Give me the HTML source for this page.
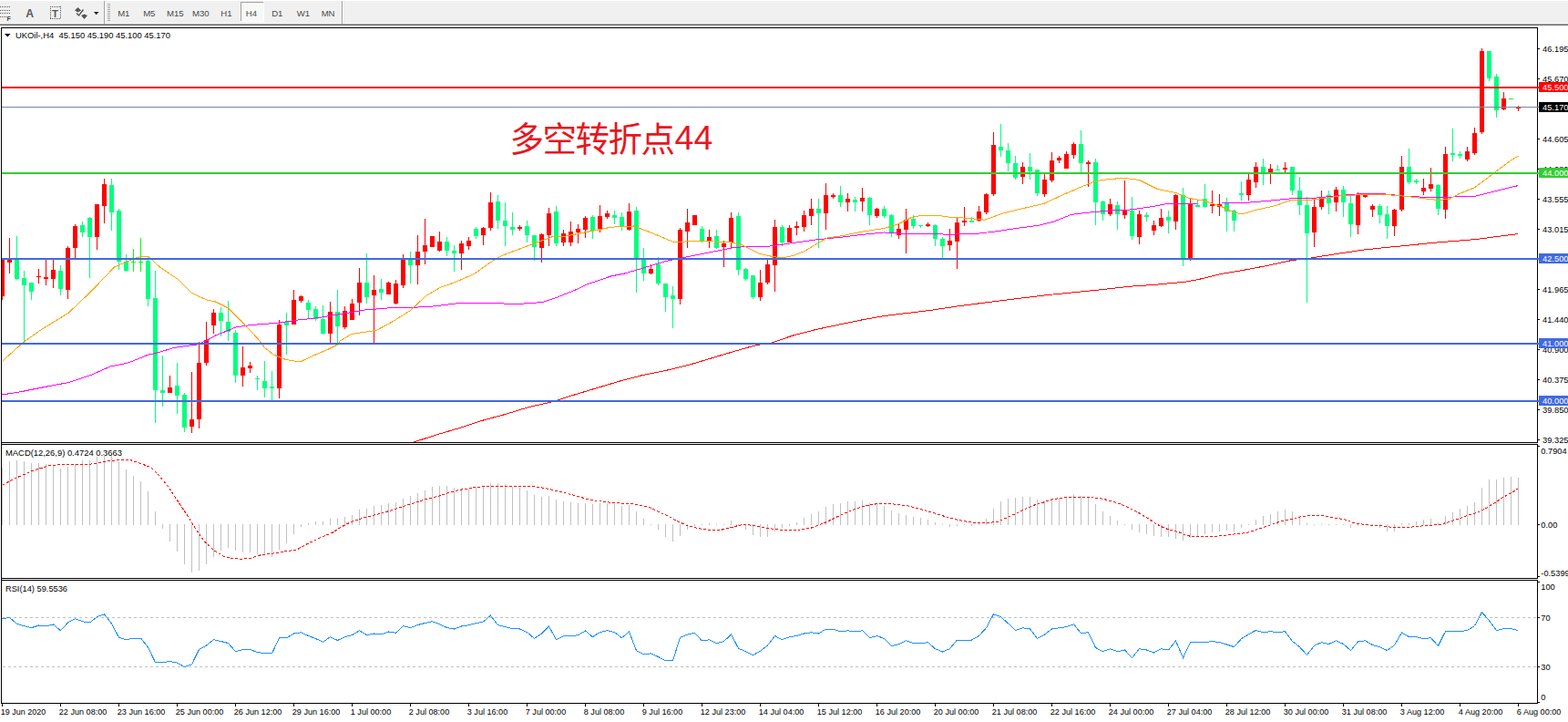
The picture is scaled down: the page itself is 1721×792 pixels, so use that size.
<!DOCTYPE html>
<html><head><meta charset="utf-8"><title>UKOil H4</title>
<style>
html,body{margin:0;padding:0;background:#fff;width:1721px;height:792px;overflow:hidden}
svg{display:block;position:absolute;left:0;top:0}
text{font-family:"Liberation Sans",sans-serif;font-size:9.5px;fill:#000}
.cr{shape-rendering:crispEdges}
.tb{fill:#4a4a4a;font-size:9.6px}
</style></head><body>
<svg width="1721" height="792" viewBox="0 0 1721 792">
<g class="cr"><rect x="0" y="0" width="1721" height="792" fill="#fff"/><rect x="0" y="1" width="1721" height="24" fill="#f0f0f0"/><rect x="0" y="25" width="1721" height="1" fill="#fbfbfb"/><rect x="0" y="26" width="1721" height="1" fill="#a3a3a3"/><rect x="0" y="27" width="1721" height="1" fill="#6b6b6b"/><rect x="114" y="1" width="1" height="25" fill="#a0a0a0"/><rect x="115" y="1" width="1" height="25" fill="#fff"/><rect x="375" y="1" width="1" height="25" fill="#a0a0a0"/><rect x="376" y="1" width="1" height="25" fill="#fff"/><rect x="118" y="4" width="3" height="1" fill="#a8a8a8"/><rect x="118" y="6" width="3" height="1" fill="#a8a8a8"/><rect x="118" y="8" width="3" height="1" fill="#a8a8a8"/><rect x="118" y="10" width="3" height="1" fill="#a8a8a8"/><rect x="118" y="12" width="3" height="1" fill="#a8a8a8"/><rect x="118" y="14" width="3" height="1" fill="#a8a8a8"/><rect x="118" y="16" width="3" height="1" fill="#a8a8a8"/><rect x="118" y="18" width="3" height="1" fill="#a8a8a8"/><rect x="118" y="20" width="3" height="1" fill="#a8a8a8"/><rect x="118" y="22" width="3" height="1" fill="#a8a8a8"/><rect x="264" y="2" width="25" height="22" fill="#f8f8f8"/><rect x="264" y="2" width="25" height="1" fill="#a0a0a0"/><rect x="264" y="2" width="1" height="22" fill="#a0a0a0"/><rect x="264" y="23" width="26" height="1" fill="#fff"/><rect x="289" y="2" width="1" height="22" fill="#fff"/></g>
<g class="cr" fill="#5a5a5a"><rect x="0" y="7" width="1" height="1"/><rect x="2" y="7" width="1" height="1"/><rect x="4" y="7" width="1" height="1"/><rect x="6" y="7" width="1" height="1"/><rect x="8" y="7" width="1" height="1"/><rect x="10" y="7" width="1" height="1"/><rect x="0" y="11" width="1" height="1"/><rect x="2" y="11" width="1" height="1"/><rect x="4" y="11" width="1" height="1"/><rect x="6" y="11" width="1" height="1"/><rect x="8" y="11" width="1" height="1"/><rect x="10" y="11" width="1" height="1"/><rect x="0" y="14" width="1" height="1"/><rect x="2" y="14" width="1" height="1"/><rect x="4" y="14" width="1" height="1"/><rect x="6" y="14" width="1" height="1"/><rect x="8" y="14" width="1" height="1"/><rect x="10" y="14" width="1" height="1"/><rect x="0" y="18" width="1" height="1"/><rect x="2" y="18" width="1" height="1"/><rect x="4" y="18" width="1" height="1"/><rect x="6" y="18" width="1" height="1"/></g><text x="7.5" y="22.6" style="font-size:7px;font-weight:bold;fill:#444">F</text><text x="28.2" y="18.6" style="font-size:12.2px;font-weight:bold;fill:#5a5a5a">A</text><g class="cr" fill="#5a5a5a"><rect x="55" y="7" width="1" height="1"/><rect x="55" y="20" width="1" height="1"/><rect x="57" y="7" width="1" height="1"/><rect x="57" y="20" width="1" height="1"/><rect x="59" y="7" width="1" height="1"/><rect x="59" y="20" width="1" height="1"/><rect x="61" y="7" width="1" height="1"/><rect x="61" y="20" width="1" height="1"/><rect x="63" y="7" width="1" height="1"/><rect x="63" y="20" width="1" height="1"/><rect x="65" y="7" width="1" height="1"/><rect x="65" y="20" width="1" height="1"/><rect x="55" y="7" width="1" height="1"/><rect x="66" y="7" width="1" height="1"/><rect x="55" y="9" width="1" height="1"/><rect x="66" y="9" width="1" height="1"/><rect x="55" y="11" width="1" height="1"/><rect x="66" y="11" width="1" height="1"/><rect x="55" y="13" width="1" height="1"/><rect x="66" y="13" width="1" height="1"/><rect x="55" y="15" width="1" height="1"/><rect x="66" y="15" width="1" height="1"/><rect x="55" y="17" width="1" height="1"/><rect x="66" y="17" width="1" height="1"/><rect x="55" y="19" width="1" height="1"/><rect x="66" y="19" width="1" height="1"/></g><text x="57.1" y="18.7" style="font-size:11.5px;font-weight:bold;fill:#5a5a5a">T</text><g fill="#555"><path d="M82,11.5 L85.5,8 L89,11.5 L85.5,13.5Z"/><path d="M89,17 L92.5,15.5 L96,17 L92.5,21Z"/></g><path d="M84,14.5 L86.5,17 L91.5,10.5" fill="none" stroke="#555" stroke-width="1.4"/><path d="M103,13 L108.4,13 L105.7,16.2Z" fill="#222"/><text class="tb" x="135.8" y="18" text-anchor="middle">M1</text><text class="tb" x="163.8" y="18" text-anchor="middle">M5</text><text class="tb" x="192.3" y="18" text-anchor="middle">M15</text><text class="tb" x="220.3" y="18" text-anchor="middle">M30</text><text class="tb" x="248.4" y="18" text-anchor="middle">H1</text><text class="tb" x="275.9" y="18" text-anchor="middle">H4</text><text class="tb" x="304.3" y="18" text-anchor="middle">D1</text><text class="tb" x="332.9" y="18" text-anchor="middle">W1</text><text class="tb" x="360.1" y="18" text-anchor="middle">MN</text>
<g class="cr" fill="#000"><rect x="1" y="30" width="1" height="742"/><rect x="1687" y="30" width="1" height="456"/><rect x="1687" y="487" width="1" height="148"/><rect x="1687" y="636" width="1" height="136"/><rect x="1" y="30" width="1687" height="1"/><rect x="1" y="485" width="1687" height="1"/><rect x="1" y="487" width="1687" height="1"/><rect x="1" y="634" width="1687" height="1"/><rect x="1" y="636" width="1687" height="1"/><rect x="1" y="771" width="1687" height="1"/></g>
<g class="cr"><rect x="2" y="285" width="1" height="44" fill="#ff0000"/><rect x="2" y="285" width="3" height="40" fill="#ff0000"/><rect x="10" y="261" width="1" height="39" fill="#ff0000"/><rect x="8" y="284" width="5" height="4" fill="#ff0000"/><rect x="18" y="259" width="1" height="48" fill="#00ff7f"/><rect x="16" y="285" width="5" height="21" fill="#00ff7f"/><rect x="26" y="297" width="1" height="79" fill="#00ff7f"/><rect x="24" y="305" width="5" height="8" fill="#00ff7f"/><rect x="34" y="310" width="1" height="19" fill="#00ff7f"/><rect x="32" y="310" width="5" height="10" fill="#00ff7f"/><rect x="42" y="295" width="1" height="16" fill="#ff0000"/><rect x="40" y="303" width="5" height="1" fill="#ff0000"/><rect x="50" y="285" width="1" height="28" fill="#ff0000"/><rect x="48" y="304" width="5" height="2" fill="#ff0000"/><rect x="58" y="285" width="1" height="31" fill="#ff0000"/><rect x="56" y="296" width="5" height="10" fill="#ff0000"/><rect x="66" y="291" width="1" height="33" fill="#00ff7f"/><rect x="64" y="297" width="5" height="20" fill="#00ff7f"/><rect x="74" y="270" width="1" height="58" fill="#ff0000"/><rect x="72" y="272" width="5" height="46" fill="#ff0000"/><rect x="82" y="246" width="1" height="37" fill="#ff0000"/><rect x="80" y="248" width="5" height="24" fill="#ff0000"/><rect x="90" y="243" width="1" height="17" fill="#00ff7f"/><rect x="88" y="247" width="5" height="8" fill="#00ff7f"/><rect x="98" y="238" width="1" height="67" fill="#00ff7f"/><rect x="96" y="239" width="5" height="21" fill="#00ff7f"/><rect x="106" y="224" width="1" height="50" fill="#ff0000"/><rect x="104" y="224" width="5" height="36" fill="#ff0000"/><rect x="114" y="196" width="1" height="49" fill="#ff0000"/><rect x="112" y="202" width="5" height="24" fill="#ff0000"/><rect x="122" y="196" width="1" height="57" fill="#00ff7f"/><rect x="120" y="203" width="5" height="30" fill="#00ff7f"/><rect x="130" y="229" width="1" height="67" fill="#00ff7f"/><rect x="128" y="231" width="5" height="56" fill="#00ff7f"/><rect x="138" y="279" width="1" height="19" fill="#00ff7f"/><rect x="136" y="287" width="5" height="10" fill="#00ff7f"/><rect x="146" y="273" width="1" height="25" fill="#00ff00"/><rect x="144" y="287" width="5" height="1" fill="#00ff00"/><rect x="154" y="261" width="1" height="37" fill="#00ff00"/><rect x="152" y="287" width="5" height="1" fill="#00ff00"/><rect x="162" y="282" width="1" height="54" fill="#00ff7f"/><rect x="160" y="286" width="5" height="42" fill="#00ff7f"/><rect x="170" y="297" width="1" height="167" fill="#00ff7f"/><rect x="168" y="327" width="5" height="101" fill="#00ff7f"/><rect x="178" y="390" width="1" height="56" fill="#00ff7f"/><rect x="176" y="428" width="5" height="3" fill="#00ff7f"/><rect x="186" y="412" width="1" height="19" fill="#ff0000"/><rect x="184" y="425" width="5" height="6" fill="#ff0000"/><rect x="194" y="398" width="1" height="56" fill="#00ff7f"/><rect x="192" y="423" width="5" height="11" fill="#00ff7f"/><rect x="202" y="431" width="1" height="43" fill="#00ff7f"/><rect x="200" y="433" width="5" height="36" fill="#00ff7f"/><rect x="210" y="408" width="1" height="67" fill="#ff0000"/><rect x="208" y="460" width="5" height="8" fill="#ff0000"/><rect x="218" y="375" width="1" height="95" fill="#ff0000"/><rect x="216" y="398" width="5" height="62" fill="#ff0000"/><rect x="226" y="353" width="1" height="48" fill="#ff0000"/><rect x="224" y="373" width="5" height="25" fill="#ff0000"/><rect x="234" y="339" width="1" height="27" fill="#ff0000"/><rect x="232" y="343" width="5" height="14" fill="#ff0000"/><rect x="242" y="337" width="1" height="32" fill="#00ff7f"/><rect x="240" y="343" width="5" height="9" fill="#00ff7f"/><rect x="250" y="330" width="1" height="44" fill="#00ff7f"/><rect x="248" y="353" width="5" height="11" fill="#00ff7f"/><rect x="258" y="362" width="1" height="58" fill="#00ff7f"/><rect x="256" y="365" width="5" height="47" fill="#00ff7f"/><rect x="266" y="380" width="1" height="44" fill="#ff0000"/><rect x="264" y="403" width="5" height="9" fill="#ff0000"/><rect x="274" y="397" width="1" height="12" fill="#ff0000"/><rect x="272" y="401" width="5" height="3" fill="#ff0000"/><rect x="282" y="412" width="1" height="16" fill="#00ff7f"/><rect x="280" y="415" width="5" height="1" fill="#00ff7f"/><rect x="290" y="396" width="1" height="40" fill="#00ff7f"/><rect x="288" y="418" width="5" height="8" fill="#00ff7f"/><rect x="298" y="407" width="1" height="32" fill="#00ff7f"/><rect x="296" y="424" width="5" height="2" fill="#00ff7f"/><rect x="306" y="351" width="1" height="86" fill="#ff0000"/><rect x="304" y="356" width="5" height="70" fill="#ff0000"/><rect x="314" y="343" width="1" height="46" fill="#00ff7f"/><rect x="312" y="353" width="5" height="4" fill="#00ff7f"/><rect x="322" y="318" width="1" height="38" fill="#ff0000"/><rect x="320" y="329" width="5" height="27" fill="#ff0000"/><rect x="330" y="324" width="1" height="8" fill="#ff0000"/><rect x="328" y="325" width="5" height="5" fill="#ff0000"/><rect x="338" y="329" width="1" height="20" fill="#00ff7f"/><rect x="336" y="332" width="5" height="8" fill="#00ff7f"/><rect x="346" y="336" width="1" height="16" fill="#00ff7f"/><rect x="344" y="339" width="5" height="11" fill="#00ff7f"/><rect x="354" y="335" width="1" height="32" fill="#00ff7f"/><rect x="352" y="350" width="5" height="16" fill="#00ff7f"/><rect x="362" y="331" width="1" height="45" fill="#ff0000"/><rect x="360" y="342" width="5" height="24" fill="#ff0000"/><rect x="370" y="318" width="1" height="61" fill="#00ff7f"/><rect x="368" y="342" width="5" height="16" fill="#00ff7f"/><rect x="378" y="336" width="1" height="25" fill="#ff0000"/><rect x="376" y="341" width="5" height="18" fill="#ff0000"/><rect x="386" y="328" width="1" height="23" fill="#ff0000"/><rect x="384" y="333" width="5" height="18" fill="#ff0000"/><rect x="394" y="294" width="1" height="52" fill="#ff0000"/><rect x="392" y="310" width="5" height="22" fill="#ff0000"/><rect x="402" y="278" width="1" height="55" fill="#00ff7f"/><rect x="400" y="310" width="5" height="16" fill="#00ff7f"/><rect x="410" y="302" width="1" height="74" fill="#ff0000"/><rect x="408" y="318" width="5" height="6" fill="#ff0000"/><rect x="418" y="306" width="1" height="23" fill="#00ff7f"/><rect x="416" y="317" width="5" height="4" fill="#00ff7f"/><rect x="426" y="309" width="1" height="14" fill="#ff0000"/><rect x="424" y="310" width="5" height="13" fill="#ff0000"/><rect x="434" y="307" width="1" height="27" fill="#ff0000"/><rect x="432" y="311" width="5" height="22" fill="#ff0000"/><rect x="442" y="279" width="1" height="37" fill="#ff0000"/><rect x="440" y="284" width="5" height="29" fill="#ff0000"/><rect x="450" y="276" width="1" height="35" fill="#00ff7f"/><rect x="448" y="284" width="5" height="7" fill="#00ff7f"/><rect x="458" y="258" width="1" height="54" fill="#ff0000"/><rect x="456" y="276" width="5" height="15" fill="#ff0000"/><rect x="466" y="240" width="1" height="50" fill="#ff0000"/><rect x="464" y="269" width="5" height="7" fill="#ff0000"/><rect x="474" y="259" width="1" height="12" fill="#ff0000"/><rect x="472" y="259" width="5" height="12" fill="#ff0000"/><rect x="482" y="254" width="1" height="22" fill="#ff0000"/><rect x="480" y="265" width="5" height="10" fill="#ff0000"/><rect x="490" y="260" width="1" height="21" fill="#00ff7f"/><rect x="488" y="265" width="5" height="10" fill="#00ff7f"/><rect x="498" y="269" width="1" height="29" fill="#00ff7f"/><rect x="496" y="275" width="5" height="3" fill="#00ff7f"/><rect x="506" y="264" width="1" height="32" fill="#ff0000"/><rect x="504" y="267" width="5" height="11" fill="#ff0000"/><rect x="514" y="260" width="1" height="14" fill="#ff0000"/><rect x="512" y="264" width="5" height="6" fill="#ff0000"/><rect x="522" y="249" width="1" height="13" fill="#00ff7f"/><rect x="520" y="251" width="5" height="8" fill="#00ff7f"/><rect x="530" y="249" width="1" height="20" fill="#ff0000"/><rect x="528" y="250" width="5" height="8" fill="#ff0000"/><rect x="538" y="211" width="1" height="42" fill="#ff0000"/><rect x="536" y="222" width="5" height="28" fill="#ff0000"/><rect x="546" y="214" width="1" height="37" fill="#00ff7f"/><rect x="544" y="221" width="5" height="21" fill="#00ff7f"/><rect x="554" y="222" width="1" height="48" fill="#00ff7f"/><rect x="552" y="242" width="5" height="6" fill="#00ff7f"/><rect x="562" y="233" width="1" height="25" fill="#00ff7f"/><rect x="560" y="249" width="5" height="3" fill="#00ff7f"/><rect x="570" y="247" width="1" height="6" fill="#ff0000"/><rect x="568" y="249" width="5" height="2" fill="#ff0000"/><rect x="578" y="242" width="1" height="24" fill="#00ff7f"/><rect x="576" y="248" width="5" height="10" fill="#00ff7f"/><rect x="586" y="258" width="1" height="28" fill="#00ff7f"/><rect x="584" y="258" width="5" height="13" fill="#00ff7f"/><rect x="594" y="256" width="1" height="32" fill="#ff0000"/><rect x="592" y="257" width="5" height="15" fill="#ff0000"/><rect x="602" y="228" width="1" height="42" fill="#ff0000"/><rect x="600" y="234" width="5" height="24" fill="#ff0000"/><rect x="610" y="226" width="1" height="44" fill="#00ff7f"/><rect x="608" y="232" width="5" height="35" fill="#00ff7f"/><rect x="618" y="252" width="1" height="18" fill="#ff0000"/><rect x="616" y="256" width="5" height="10" fill="#ff0000"/><rect x="626" y="243" width="1" height="27" fill="#ff0000"/><rect x="624" y="254" width="5" height="12" fill="#ff0000"/><rect x="634" y="246" width="1" height="21" fill="#ff0000"/><rect x="632" y="251" width="5" height="4" fill="#ff0000"/><rect x="642" y="237" width="1" height="24" fill="#ff0000"/><rect x="640" y="239" width="5" height="13" fill="#ff0000"/><rect x="650" y="236" width="1" height="26" fill="#00ff7f"/><rect x="648" y="238" width="5" height="15" fill="#00ff7f"/><rect x="658" y="225" width="1" height="30" fill="#ff0000"/><rect x="656" y="237" width="5" height="15" fill="#ff0000"/><rect x="666" y="231" width="1" height="9" fill="#ff0000"/><rect x="664" y="234" width="5" height="4" fill="#ff0000"/><rect x="674" y="231" width="1" height="15" fill="#00ff7f"/><rect x="672" y="236" width="5" height="3" fill="#00ff7f"/><rect x="682" y="233" width="1" height="20" fill="#00ff7f"/><rect x="680" y="238" width="5" height="10" fill="#00ff7f"/><rect x="690" y="223" width="1" height="30" fill="#ff0000"/><rect x="688" y="232" width="5" height="20" fill="#ff0000"/><rect x="698" y="227" width="1" height="94" fill="#00ff7f"/><rect x="696" y="231" width="5" height="53" fill="#00ff7f"/><rect x="706" y="272" width="1" height="36" fill="#00ff7f"/><rect x="704" y="284" width="5" height="16" fill="#00ff7f"/><rect x="714" y="290" width="1" height="11" fill="#ff0000"/><rect x="712" y="295" width="5" height="5" fill="#ff0000"/><rect x="722" y="282" width="1" height="31" fill="#00ff7f"/><rect x="720" y="290" width="5" height="21" fill="#00ff7f"/><rect x="730" y="311" width="1" height="31" fill="#00ff7f"/><rect x="728" y="311" width="5" height="15" fill="#00ff7f"/><rect x="738" y="314" width="1" height="46" fill="#00ff7f"/><rect x="736" y="324" width="5" height="4" fill="#00ff7f"/><rect x="746" y="250" width="1" height="84" fill="#ff0000"/><rect x="744" y="252" width="5" height="76" fill="#ff0000"/><rect x="754" y="229" width="1" height="43" fill="#ff0000"/><rect x="752" y="244" width="5" height="10" fill="#ff0000"/><rect x="762" y="236" width="1" height="11" fill="#ff0000"/><rect x="760" y="236" width="5" height="11" fill="#ff0000"/><rect x="770" y="248" width="1" height="18" fill="#00ff7f"/><rect x="768" y="251" width="5" height="13" fill="#00ff7f"/><rect x="778" y="252" width="1" height="20" fill="#ff0000"/><rect x="776" y="260" width="5" height="4" fill="#ff0000"/><rect x="786" y="252" width="1" height="21" fill="#00ff7f"/><rect x="784" y="259" width="5" height="13" fill="#00ff7f"/><rect x="794" y="264" width="1" height="29" fill="#ff0000"/><rect x="792" y="267" width="5" height="4" fill="#ff0000"/><rect x="802" y="233" width="1" height="39" fill="#ff0000"/><rect x="800" y="239" width="5" height="27" fill="#ff0000"/><rect x="810" y="233" width="1" height="69" fill="#00ff7f"/><rect x="808" y="237" width="5" height="59" fill="#00ff7f"/><rect x="818" y="294" width="1" height="14" fill="#00ff7f"/><rect x="816" y="295" width="5" height="11" fill="#00ff7f"/><rect x="826" y="302" width="1" height="26" fill="#00ff7f"/><rect x="824" y="302" width="5" height="24" fill="#00ff7f"/><rect x="834" y="296" width="1" height="34" fill="#ff0000"/><rect x="832" y="310" width="5" height="16" fill="#ff0000"/><rect x="842" y="285" width="1" height="27" fill="#ff0000"/><rect x="840" y="290" width="5" height="20" fill="#ff0000"/><rect x="850" y="241" width="1" height="79" fill="#ff0000"/><rect x="848" y="249" width="5" height="42" fill="#ff0000"/><rect x="858" y="247" width="1" height="23" fill="#00ff7f"/><rect x="856" y="249" width="5" height="17" fill="#00ff7f"/><rect x="866" y="247" width="1" height="19" fill="#ff0000"/><rect x="864" y="250" width="5" height="16" fill="#ff0000"/><rect x="874" y="243" width="1" height="15" fill="#ff0000"/><rect x="872" y="248" width="5" height="2" fill="#ff0000"/><rect x="882" y="231" width="1" height="23" fill="#ff0000"/><rect x="880" y="236" width="5" height="13" fill="#ff0000"/><rect x="890" y="218" width="1" height="29" fill="#ff0000"/><rect x="888" y="229" width="5" height="8" fill="#ff0000"/><rect x="898" y="218" width="1" height="54" fill="#00ff7f"/><rect x="896" y="229" width="5" height="5" fill="#00ff7f"/><rect x="906" y="201" width="1" height="51" fill="#ff0000"/><rect x="904" y="214" width="5" height="20" fill="#ff0000"/><rect x="914" y="212" width="1" height="6" fill="#ff0000"/><rect x="912" y="214" width="5" height="2" fill="#ff0000"/><rect x="922" y="204" width="1" height="23" fill="#00ff7f"/><rect x="920" y="214" width="5" height="8" fill="#00ff7f"/><rect x="930" y="212" width="1" height="20" fill="#ff0000"/><rect x="928" y="218" width="5" height="4" fill="#ff0000"/><rect x="938" y="216" width="1" height="16" fill="#00ff7f"/><rect x="936" y="219" width="5" height="3" fill="#00ff7f"/><rect x="946" y="206" width="1" height="26" fill="#ff0000"/><rect x="944" y="217" width="5" height="4" fill="#ff0000"/><rect x="954" y="216" width="1" height="31" fill="#00ff7f"/><rect x="952" y="217" width="5" height="19" fill="#00ff7f"/><rect x="962" y="228" width="1" height="11" fill="#ff0000"/><rect x="960" y="229" width="5" height="8" fill="#ff0000"/><rect x="970" y="226" width="1" height="13" fill="#00ff7f"/><rect x="968" y="229" width="5" height="8" fill="#00ff7f"/><rect x="978" y="235" width="1" height="25" fill="#00ff7f"/><rect x="976" y="236" width="5" height="20" fill="#00ff7f"/><rect x="986" y="245" width="1" height="17" fill="#ff0000"/><rect x="984" y="251" width="5" height="7" fill="#ff0000"/><rect x="994" y="229" width="1" height="49" fill="#ff0000"/><rect x="992" y="241" width="5" height="11" fill="#ff0000"/><rect x="1002" y="236" width="1" height="15" fill="#00ff7f"/><rect x="1000" y="240" width="5" height="8" fill="#00ff7f"/><rect x="1010" y="247" width="1" height="3" fill="#00ff7f"/><rect x="1008" y="247" width="5" height="1" fill="#00ff7f"/><rect x="1018" y="244" width="1" height="5" fill="#ff0000"/><rect x="1016" y="246" width="5" height="2" fill="#ff0000"/><rect x="1026" y="246" width="1" height="24" fill="#00ff7f"/><rect x="1024" y="247" width="5" height="15" fill="#00ff7f"/><rect x="1034" y="260" width="1" height="23" fill="#00ff7f"/><rect x="1032" y="262" width="5" height="8" fill="#00ff7f"/><rect x="1042" y="251" width="1" height="24" fill="#ff0000"/><rect x="1040" y="264" width="5" height="5" fill="#ff0000"/><rect x="1050" y="239" width="1" height="56" fill="#ff0000"/><rect x="1048" y="244" width="5" height="21" fill="#ff0000"/><rect x="1058" y="227" width="1" height="21" fill="#ff0000"/><rect x="1056" y="242" width="5" height="2" fill="#ff0000"/><rect x="1066" y="238" width="1" height="6" fill="#00ff7f"/><rect x="1064" y="242" width="5" height="2" fill="#00ff7f"/><rect x="1074" y="226" width="1" height="17" fill="#ff0000"/><rect x="1072" y="232" width="5" height="10" fill="#ff0000"/><rect x="1082" y="212" width="1" height="23" fill="#ff0000"/><rect x="1080" y="213" width="5" height="20" fill="#ff0000"/><rect x="1090" y="145" width="1" height="70" fill="#ff0000"/><rect x="1088" y="159" width="5" height="54" fill="#ff0000"/><rect x="1098" y="136" width="1" height="36" fill="#00ff7f"/><rect x="1096" y="161" width="5" height="4" fill="#00ff7f"/><rect x="1106" y="157" width="1" height="31" fill="#00ff7f"/><rect x="1104" y="165" width="5" height="14" fill="#00ff7f"/><rect x="1114" y="171" width="1" height="26" fill="#00ff7f"/><rect x="1112" y="179" width="5" height="16" fill="#00ff7f"/><rect x="1122" y="178" width="1" height="24" fill="#ff0000"/><rect x="1120" y="183" width="5" height="11" fill="#ff0000"/><rect x="1130" y="168" width="1" height="29" fill="#00ff7f"/><rect x="1128" y="183" width="5" height="5" fill="#00ff7f"/><rect x="1138" y="186" width="1" height="29" fill="#00ff7f"/><rect x="1136" y="186" width="5" height="26" fill="#00ff7f"/><rect x="1146" y="191" width="1" height="25" fill="#ff0000"/><rect x="1144" y="197" width="5" height="16" fill="#ff0000"/><rect x="1154" y="167" width="1" height="33" fill="#ff0000"/><rect x="1152" y="176" width="5" height="22" fill="#ff0000"/><rect x="1162" y="171" width="1" height="8" fill="#ff0000"/><rect x="1160" y="173" width="5" height="3" fill="#ff0000"/><rect x="1170" y="166" width="1" height="19" fill="#ff0000"/><rect x="1168" y="169" width="5" height="16" fill="#ff0000"/><rect x="1178" y="156" width="1" height="18" fill="#ff0000"/><rect x="1176" y="158" width="5" height="12" fill="#ff0000"/><rect x="1186" y="143" width="1" height="46" fill="#00ff7f"/><rect x="1184" y="158" width="5" height="21" fill="#00ff7f"/><rect x="1194" y="176" width="1" height="29" fill="#ff0000"/><rect x="1192" y="178" width="5" height="2" fill="#ff0000"/><rect x="1202" y="174" width="1" height="73" fill="#00ff7f"/><rect x="1200" y="178" width="5" height="44" fill="#00ff7f"/><rect x="1210" y="220" width="1" height="22" fill="#00ff7f"/><rect x="1208" y="221" width="5" height="14" fill="#00ff7f"/><rect x="1218" y="218" width="1" height="19" fill="#ff0000"/><rect x="1216" y="224" width="5" height="11" fill="#ff0000"/><rect x="1226" y="221" width="1" height="31" fill="#00ff7f"/><rect x="1224" y="225" width="5" height="10" fill="#00ff7f"/><rect x="1234" y="198" width="1" height="42" fill="#ff0000"/><rect x="1232" y="231" width="5" height="5" fill="#ff0000"/><rect x="1242" y="216" width="1" height="47" fill="#00ff7f"/><rect x="1240" y="231" width="5" height="28" fill="#00ff7f"/><rect x="1250" y="231" width="1" height="37" fill="#ff0000"/><rect x="1248" y="235" width="5" height="25" fill="#ff0000"/><rect x="1258" y="233" width="1" height="10" fill="#00ff7f"/><rect x="1256" y="236" width="5" height="2" fill="#00ff7f"/><rect x="1266" y="242" width="1" height="16" fill="#ff0000"/><rect x="1264" y="247" width="5" height="6" fill="#ff0000"/><rect x="1274" y="229" width="1" height="20" fill="#ff0000"/><rect x="1272" y="239" width="5" height="9" fill="#ff0000"/><rect x="1282" y="231" width="1" height="25" fill="#00ff7f"/><rect x="1280" y="238" width="5" height="4" fill="#00ff7f"/><rect x="1290" y="213" width="1" height="39" fill="#ff0000"/><rect x="1288" y="214" width="5" height="29" fill="#ff0000"/><rect x="1298" y="206" width="1" height="86" fill="#00ff7f"/><rect x="1296" y="214" width="5" height="70" fill="#00ff7f"/><rect x="1306" y="218" width="1" height="68" fill="#ff0000"/><rect x="1304" y="224" width="5" height="60" fill="#ff0000"/><rect x="1314" y="220" width="1" height="7" fill="#00ff7f"/><rect x="1312" y="225" width="5" height="2" fill="#00ff7f"/><rect x="1322" y="202" width="1" height="26" fill="#00ff7f"/><rect x="1320" y="218" width="5" height="9" fill="#00ff7f"/><rect x="1330" y="209" width="1" height="25" fill="#ff0000"/><rect x="1328" y="224" width="5" height="2" fill="#ff0000"/><rect x="1338" y="213" width="1" height="24" fill="#ff0000"/><rect x="1336" y="224" width="5" height="3" fill="#ff0000"/><rect x="1346" y="217" width="1" height="37" fill="#00ff7f"/><rect x="1344" y="222" width="5" height="10" fill="#00ff7f"/><rect x="1354" y="230" width="1" height="24" fill="#00ff7f"/><rect x="1352" y="231" width="5" height="11" fill="#00ff7f"/><rect x="1362" y="199" width="1" height="21" fill="#00ff7f"/><rect x="1360" y="212" width="5" height="2" fill="#00ff7f"/><rect x="1370" y="191" width="1" height="29" fill="#ff0000"/><rect x="1368" y="197" width="5" height="17" fill="#ff0000"/><rect x="1378" y="178" width="1" height="28" fill="#ff0000"/><rect x="1376" y="183" width="5" height="17" fill="#ff0000"/><rect x="1386" y="174" width="1" height="29" fill="#00ff7f"/><rect x="1384" y="183" width="5" height="7" fill="#00ff7f"/><rect x="1394" y="180" width="1" height="22" fill="#ff0000"/><rect x="1392" y="185" width="5" height="4" fill="#ff0000"/><rect x="1402" y="181" width="1" height="6" fill="#00ff7f"/><rect x="1400" y="186" width="5" height="1" fill="#00ff7f"/><rect x="1410" y="178" width="1" height="11" fill="#ff0000"/><rect x="1408" y="184" width="5" height="2" fill="#ff0000"/><rect x="1418" y="183" width="1" height="31" fill="#00ff7f"/><rect x="1416" y="183" width="5" height="26" fill="#00ff7f"/><rect x="1426" y="194" width="1" height="42" fill="#00ff7f"/><rect x="1424" y="209" width="5" height="16" fill="#00ff7f"/><rect x="1434" y="216" width="1" height="116" fill="#00ff7f"/><rect x="1432" y="225" width="5" height="31" fill="#00ff7f"/><rect x="1442" y="219" width="1" height="52" fill="#ff0000"/><rect x="1440" y="227" width="5" height="28" fill="#ff0000"/><rect x="1450" y="209" width="1" height="21" fill="#ff0000"/><rect x="1448" y="217" width="5" height="10" fill="#ff0000"/><rect x="1458" y="209" width="1" height="26" fill="#00ff7f"/><rect x="1456" y="214" width="5" height="9" fill="#00ff7f"/><rect x="1466" y="205" width="1" height="27" fill="#ff0000"/><rect x="1464" y="208" width="5" height="14" fill="#ff0000"/><rect x="1474" y="204" width="1" height="34" fill="#00ff7f"/><rect x="1472" y="208" width="5" height="14" fill="#00ff7f"/><rect x="1482" y="215" width="1" height="45" fill="#00ff7f"/><rect x="1480" y="223" width="5" height="23" fill="#00ff7f"/><rect x="1490" y="211" width="1" height="46" fill="#ff0000"/><rect x="1488" y="214" width="5" height="33" fill="#ff0000"/><rect x="1498" y="212" width="1" height="5" fill="#ff0000"/><rect x="1496" y="212" width="5" height="4" fill="#ff0000"/><rect x="1506" y="224" width="1" height="14" fill="#ff0000"/><rect x="1504" y="226" width="5" height="4" fill="#ff0000"/><rect x="1514" y="224" width="1" height="21" fill="#00ff7f"/><rect x="1512" y="226" width="5" height="10" fill="#00ff7f"/><rect x="1522" y="226" width="1" height="36" fill="#00ff7f"/><rect x="1520" y="235" width="5" height="13" fill="#00ff7f"/><rect x="1530" y="229" width="1" height="30" fill="#ff0000"/><rect x="1528" y="230" width="5" height="18" fill="#ff0000"/><rect x="1538" y="171" width="1" height="61" fill="#ff0000"/><rect x="1536" y="183" width="5" height="47" fill="#ff0000"/><rect x="1546" y="163" width="1" height="39" fill="#00ff7f"/><rect x="1544" y="183" width="5" height="17" fill="#00ff7f"/><rect x="1554" y="196" width="1" height="6" fill="#00ff7f"/><rect x="1552" y="198" width="5" height="2" fill="#00ff7f"/><rect x="1562" y="196" width="1" height="18" fill="#ff0000"/><rect x="1560" y="206" width="5" height="4" fill="#ff0000"/><rect x="1570" y="184" width="1" height="26" fill="#ff0000"/><rect x="1568" y="202" width="5" height="5" fill="#ff0000"/><rect x="1578" y="202" width="1" height="34" fill="#00ff7f"/><rect x="1576" y="203" width="5" height="26" fill="#00ff7f"/><rect x="1586" y="161" width="1" height="79" fill="#ff0000"/><rect x="1584" y="169" width="5" height="61" fill="#ff0000"/><rect x="1594" y="141" width="1" height="36" fill="#00ff7f"/><rect x="1592" y="168" width="5" height="2" fill="#00ff7f"/><rect x="1602" y="166" width="1" height="8" fill="#00ff7f"/><rect x="1600" y="169" width="5" height="2" fill="#00ff7f"/><rect x="1610" y="161" width="1" height="16" fill="#ff0000"/><rect x="1608" y="166" width="5" height="9" fill="#ff0000"/><rect x="1618" y="140" width="1" height="30" fill="#ff0000"/><rect x="1616" y="146" width="5" height="22" fill="#ff0000"/><rect x="1626" y="53" width="1" height="94" fill="#ff0000"/><rect x="1624" y="56" width="5" height="89" fill="#ff0000"/><rect x="1634" y="56" width="1" height="33" fill="#00ff7f"/><rect x="1632" y="56" width="5" height="30" fill="#00ff7f"/><rect x="1642" y="81" width="1" height="48" fill="#00ff7f"/><rect x="1640" y="84" width="5" height="37" fill="#00ff7f"/><rect x="1650" y="101" width="1" height="20" fill="#ff0000"/><rect x="1648" y="108" width="5" height="12" fill="#ff0000"/><rect x="1658" y="108" width="1" height="1" fill="#00ff00"/><rect x="1656" y="108" width="5" height="1" fill="#00ff00"/><rect x="1666" y="116" width="1" height="6" fill="#ff0000"/><rect x="1664" y="118" width="5" height="1" fill="#ff0000"/></g>
<polyline fill="none" stroke="#ff0000" stroke-width="1" shape-rendering="crispEdges" points="454.2,485 480.5,476.5 505.5,469.2 530.5,461 555.5,454.2 580.5,446.5 605.5,441 630.5,433 655.5,425.5 680.5,418 705.5,411.5 730.5,406.5 755.5,400.5 780.5,393 805.5,385.5 830.5,378.5 845.5,376.5 870.5,368 895.5,361.5 920.5,356.2 945.5,351 970.5,346.5 995.5,343.5 1020.5,340.5 1050.5,336 1100.5,329.5 1150.5,323.5 1206.5,318 1240.5,314.2 1265.5,312.5 1300.5,309.2 1315.5,306.5 1340.5,300.5 1365.5,296.2 1390.5,291.5 1415.5,286 1435.5,283.5 1470.5,278 1495.5,274.2 1520.5,271.5 1545.5,269.2 1570.5,266.5 1595.5,264.5 1620.5,262.5 1645.5,259.2 1666.5,256.5"/>
<polyline fill="none" stroke="#ff00ff" stroke-width="1" shape-rendering="crispEdges" points="2.5,433 25.5,429.2 50.5,424.2 75.5,419.5 100.5,411.2 120.5,402.2 140.5,398 150.5,394.2 162.5,389.2 175.5,386.2 190.5,381.5 215.5,378 225.5,374.2 237.5,367.5 250.5,362.5 257.5,359.2 275.5,356.5 305.5,354.2 325.5,351.2 350.5,348.5 375.5,344.2 400.5,340 425.5,338 450.5,337.5 475.5,336 500.5,333 525.5,332.5 550.5,332.5 555.5,333.5 575.5,333 595.5,331.5 610.5,326.5 630.5,318.5 645.5,311.5 670.5,303 685.5,300 705.5,294.2 730.5,286.5 755.5,281.5 780.5,276.5 805.5,271.5 820.5,270.5 845.5,270 870.5,266.5 895.5,263 925.5,260 945.5,257.5 970.5,255 995.5,256.5 1020.5,256.5 1040.5,257.2 1070.5,256.5 1090.5,254.2 1115.5,250.5 1140.5,247.2 1155.5,243.5 1175.5,235.5 1190.5,233.5 1215.5,231.2 1240.5,230 1265.5,226.5 1280.5,223.5 1315.5,223 1340.5,223 1365.5,222.5 1390.5,220.5 1415.5,218 1440.5,217.5 1470.5,214.5 1495.5,212.5 1520.5,213 1545.5,215.5 1570.5,216.5 1595.5,216 1620.5,215 1635.5,211.2 1666.5,203.5"/>
<polyline fill="none" stroke="#ffa500" stroke-width="1" shape-rendering="crispEdges" points="2.5,396.2 25.5,375.5 45.5,361.5 75.5,343 100.5,319.2 125.5,293 140.5,286.5 146.5,284 150.5,282.5 153.5,281.8 155,281.5 163,281.5 164.5,282.5 166.5,284.8 175.5,293 195.5,306.5 210.5,321.5 228,329.5 235.5,330.5 250.5,338 265.5,353 283,371.5 290.5,381.5 300.5,389.2 313,394.2 325.5,396.5 330.5,396.5 343,390.5 360.5,383 370.5,378 373,374.2 385.5,366.5 400.5,364.2 413,362.5 430.5,353 450.5,340.5 468,324.2 483,315.5 500.5,309.2 520.5,300.5 538,288 550.5,280.5 570.5,273 590.5,265.5 605.5,260 620.5,259.2 645.5,254.2 670.5,249.2 695.5,248 715.5,255.5 740.5,266 760.5,264.2 783,265 800.5,265.5 815.5,269.2 833,278 845.5,281 858,283 870.5,280.5 883,275.5 895.5,268 908,261 925.5,258.5 945.5,254.2 970.5,250.5 985.5,246 1000.5,238.5 1010.5,236.5 1030.5,236.5 1040.5,238 1060.5,239.2 1080.5,241.2 1100.5,234.2 1125.5,228 1145.5,223.5 1165.5,214.2 1185.5,205.5 1203,198.5 1220.5,196.2 1235.5,195.5 1250.5,197.5 1270.5,207.5 1290.5,211.5 1305.5,217.5 1323,220.5 1340.5,226.5 1350.5,231.5 1363,235 1378,230.5 1400.5,225.5 1415.5,220 1435.5,219.5 1453,217.5 1470.5,215 1495.5,213.5 1520.5,213.5 1545.5,215.5 1560.5,217.5 1578,219.5 1590.5,218.5 1600.5,213 1618,206 1633,195 1645.5,185.5 1658,176 1666.5,171.2"/>
<g class="cr"><rect x="2" y="117" width="1687" height="1" fill="#778899"/><rect x="2" y="95" width="1687" height="2" fill="#ff0000"/><rect x="2" y="189" width="1687" height="2" fill="#32cd32"/><rect x="2" y="283" width="1687" height="2" fill="#4169e1"/><rect x="2" y="376" width="1687" height="2" fill="#4169e1"/><rect x="2" y="439" width="1687" height="2" fill="#4169e1"/></g>
<text x="559.4" y="165.7" textLength="181.5" lengthAdjust="spacing" style="font-family:'Liberation Sans','Noto Sans CJK SC',sans-serif;font-size:37.5px;fill:#e8161e">多空转折点</text><text x="740.6" y="164" textLength="41.6" lengthAdjust="spacingAndGlyphs" style="font-size:37.6px;fill:#e8161e">44</text>
<g class="cr" fill="#000"><rect x="1688" y="53" width="2" height="1"/><rect x="1688" y="86" width="2" height="1"/><rect x="1688" y="152" width="2" height="1"/><rect x="1688" y="185" width="2" height="1"/><rect x="1688" y="218" width="2" height="1"/><rect x="1688" y="251" width="2" height="1"/><rect x="1688" y="317" width="2" height="1"/><rect x="1688" y="350" width="2" height="1"/><rect x="1688" y="383" width="2" height="1"/><rect x="1688" y="416" width="2" height="1"/><rect x="1688" y="449" width="2" height="1"/><rect x="1688" y="482" width="2" height="1"/><rect x="1688" y="489" width="2" height="1"/><rect x="1688" y="575" width="2" height="1"/><rect x="1688" y="632" width="2" height="1"/><rect x="1688" y="638" width="2" height="1"/><rect x="1688" y="677" width="2" height="1"/><rect x="1688" y="731" width="2" height="1"/><rect x="1688" y="770" width="2" height="1"/></g><text x="1693" y="57" textLength="28.5" lengthAdjust="spacingAndGlyphs">46.195</text><text x="1693" y="90" textLength="28.5" lengthAdjust="spacingAndGlyphs">45.670</text><text x="1693" y="156" textLength="28.5" lengthAdjust="spacingAndGlyphs">44.605</text><text x="1693" y="189" textLength="28.5" lengthAdjust="spacingAndGlyphs">44.080</text><text x="1693" y="222" textLength="28.5" lengthAdjust="spacingAndGlyphs">43.555</text><text x="1693" y="255" textLength="28.5" lengthAdjust="spacingAndGlyphs">43.015</text><text x="1693" y="321" textLength="28.5" lengthAdjust="spacingAndGlyphs">41.965</text><text x="1693" y="354" textLength="28.5" lengthAdjust="spacingAndGlyphs">41.440</text><text x="1693" y="387" textLength="28.5" lengthAdjust="spacingAndGlyphs">40.900</text><text x="1693" y="420" textLength="28.5" lengthAdjust="spacingAndGlyphs">40.375</text><text x="1693" y="453" textLength="28.5" lengthAdjust="spacingAndGlyphs">39.850</text><text x="1693" y="486" textLength="28.5" lengthAdjust="spacingAndGlyphs">39.325</text><text x="1691.3" y="498" textLength="28.4" lengthAdjust="spacingAndGlyphs">0.7904</text><text x="1691.3" y="579" textLength="18" lengthAdjust="spacingAndGlyphs">0.00</text><text x="1691.3" y="631.5" textLength="31.4" lengthAdjust="spacingAndGlyphs">-0.5399</text><text x="1691.3" y="647" textLength="15.5" lengthAdjust="spacingAndGlyphs">100</text><text x="1691.3" y="680.6" textLength="10.3" lengthAdjust="spacingAndGlyphs">70</text><text x="1691.3" y="734.6" textLength="10.3" lengthAdjust="spacingAndGlyphs">30</text><text x="1691.3" y="768" textLength="5.2" lengthAdjust="spacingAndGlyphs">0</text><g class="cr"><rect x="1689" y="90" width="32" height="11" fill="#ff0000"/><rect x="1689" y="112" width="32" height="11" fill="#000"/><rect x="1689" y="184" width="32" height="11" fill="#32cd32"/><rect x="1689" y="278" width="32" height="11" fill="#4169e1"/><rect x="1689" y="371" width="32" height="11" fill="#4169e1"/><rect x="1689" y="434" width="32" height="11" fill="#4169e1"/></g><text x="1693" y="99.0" textLength="28.5" lengthAdjust="spacingAndGlyphs" style="fill:#fff">45.500</text><text x="1693" y="121.0" textLength="28.5" lengthAdjust="spacingAndGlyphs" style="fill:#fff">45.170</text><text x="1693" y="192.9" textLength="28.5" lengthAdjust="spacingAndGlyphs" style="fill:#fff">44.000</text><text x="1693" y="286.9" textLength="28.5" lengthAdjust="spacingAndGlyphs" style="fill:#fff">42.500</text><text x="1693" y="379.9" textLength="28.5" lengthAdjust="spacingAndGlyphs" style="fill:#fff">41.000</text><text x="1693" y="442.9" textLength="28.5" lengthAdjust="spacingAndGlyphs" style="fill:#fff">40.000</text>
<path d="M5,37 L11.6,37 L8.3,40.6Z" fill="#000"/><text x="17" y="42" textLength="170" lengthAdjust="spacingAndGlyphs" xml:space="preserve" style="white-space:pre">UKOil-,H4  45.150 45.190 45.100 45.170</text><text x="6" y="500" textLength="128" lengthAdjust="spacingAndGlyphs">MACD(12,26,9) 0.4724 0.3663</text><text x="6" y="649" textLength="68" lengthAdjust="spacingAndGlyphs">RSI(14) 59.5536</text>
<g class="cr" fill="#c0c0c0"><rect x="2" y="513" width="1" height="63"/><rect x="10" y="506" width="1" height="70"/><rect x="18" y="505" width="1" height="71"/><rect x="26" y="506" width="1" height="70"/><rect x="34" y="508" width="1" height="68"/><rect x="42" y="508" width="1" height="68"/><rect x="50" y="509" width="1" height="67"/><rect x="58" y="510" width="1" height="66"/><rect x="66" y="514" width="1" height="62"/><rect x="74" y="512" width="1" height="64"/><rect x="82" y="509" width="1" height="67"/><rect x="90" y="505" width="1" height="71"/><rect x="98" y="505" width="1" height="71"/><rect x="106" y="501" width="1" height="75"/><rect x="114" y="498" width="1" height="78"/><rect x="122" y="500" width="1" height="76"/><rect x="130" y="506" width="1" height="70"/><rect x="138" y="515" width="1" height="61"/><rect x="146" y="522" width="1" height="54"/><rect x="154" y="528" width="1" height="48"/><rect x="162" y="539" width="1" height="37"/><rect x="170" y="561" width="1" height="15"/><rect x="178" y="575" width="1" height="5"/><rect x="186" y="575" width="1" height="19"/><rect x="194" y="575" width="1" height="30"/><rect x="202" y="575" width="1" height="44"/><rect x="210" y="575" width="1" height="53"/><rect x="218" y="575" width="1" height="51"/><rect x="226" y="575" width="1" height="44"/><rect x="234" y="575" width="1" height="36"/><rect x="242" y="575" width="1" height="29"/><rect x="250" y="575" width="1" height="26"/><rect x="258" y="575" width="1" height="29"/><rect x="266" y="575" width="1" height="31"/><rect x="274" y="575" width="1" height="31"/><rect x="282" y="575" width="1" height="33"/><rect x="290" y="575" width="1" height="34"/><rect x="298" y="575" width="1" height="36"/><rect x="306" y="575" width="1" height="28"/><rect x="314" y="575" width="1" height="21"/><rect x="322" y="575" width="1" height="11"/><rect x="330" y="575" width="1" height="3"/><rect x="338" y="574" width="1" height="2"/><rect x="346" y="572" width="1" height="4"/><rect x="354" y="572" width="1" height="4"/><rect x="362" y="569" width="1" height="7"/><rect x="370" y="569" width="1" height="7"/><rect x="378" y="567" width="1" height="9"/><rect x="386" y="565" width="1" height="11"/><rect x="394" y="559" width="1" height="17"/><rect x="402" y="558" width="1" height="18"/><rect x="410" y="555" width="1" height="21"/><rect x="418" y="554" width="1" height="22"/><rect x="426" y="552" width="1" height="24"/><rect x="434" y="551" width="1" height="25"/><rect x="442" y="547" width="1" height="29"/><rect x="450" y="544" width="1" height="32"/><rect x="458" y="541" width="1" height="35"/><rect x="466" y="538" width="1" height="38"/><rect x="474" y="534" width="1" height="42"/><rect x="482" y="533" width="1" height="43"/><rect x="490" y="533" width="1" height="43"/><rect x="498" y="535" width="1" height="41"/><rect x="506" y="535" width="1" height="41"/><rect x="514" y="536" width="1" height="40"/><rect x="522" y="535" width="1" height="41"/><rect x="530" y="534" width="1" height="42"/><rect x="538" y="530" width="1" height="46"/><rect x="546" y="530" width="1" height="46"/><rect x="554" y="531" width="1" height="45"/><rect x="562" y="534" width="1" height="42"/><rect x="570" y="535" width="1" height="41"/><rect x="578" y="538" width="1" height="38"/><rect x="586" y="543" width="1" height="33"/><rect x="594" y="545" width="1" height="31"/><rect x="602" y="544" width="1" height="32"/><rect x="610" y="548" width="1" height="28"/><rect x="618" y="550" width="1" height="26"/><rect x="626" y="551" width="1" height="25"/><rect x="634" y="552" width="1" height="24"/><rect x="642" y="552" width="1" height="24"/><rect x="650" y="553" width="1" height="23"/><rect x="658" y="552" width="1" height="24"/><rect x="666" y="552" width="1" height="24"/><rect x="674" y="553" width="1" height="23"/><rect x="682" y="555" width="1" height="21"/><rect x="690" y="554" width="1" height="22"/><rect x="698" y="561" width="1" height="15"/><rect x="706" y="569" width="1" height="7"/><rect x="714" y="575" width="1" height="1"/><rect x="722" y="575" width="1" height="6"/><rect x="730" y="575" width="1" height="14"/><rect x="738" y="575" width="1" height="19"/><rect x="746" y="575" width="1" height="13"/><rect x="754" y="575" width="1" height="6"/><rect x="762" y="575" width="1" height="2"/><rect x="770" y="575" width="1" height="1"/><rect x="778" y="574" width="1" height="2"/><rect x="786" y="575" width="1" height="1"/><rect x="794" y="575" width="1" height="1"/><rect x="802" y="571" width="1" height="5"/><rect x="810" y="575" width="1" height="2"/><rect x="818" y="575" width="1" height="6"/><rect x="826" y="575" width="1" height="12"/><rect x="834" y="575" width="1" height="14"/><rect x="842" y="575" width="1" height="14"/><rect x="850" y="575" width="1" height="8"/><rect x="858" y="575" width="1" height="4"/><rect x="866" y="575" width="1" height="2"/><rect x="874" y="573" width="1" height="3"/><rect x="882" y="568" width="1" height="8"/><rect x="890" y="564" width="1" height="12"/><rect x="898" y="561" width="1" height="15"/><rect x="906" y="556" width="1" height="20"/><rect x="914" y="553" width="1" height="23"/><rect x="922" y="552" width="1" height="24"/><rect x="930" y="550" width="1" height="26"/><rect x="938" y="550" width="1" height="26"/><rect x="946" y="549" width="1" height="27"/><rect x="954" y="552" width="1" height="24"/><rect x="962" y="553" width="1" height="23"/><rect x="970" y="555" width="1" height="21"/><rect x="978" y="560" width="1" height="16"/><rect x="986" y="563" width="1" height="13"/><rect x="994" y="565" width="1" height="11"/><rect x="1002" y="567" width="1" height="9"/><rect x="1010" y="568" width="1" height="8"/><rect x="1018" y="570" width="1" height="6"/><rect x="1026" y="573" width="1" height="3"/><rect x="1034" y="575" width="1" height="1"/><rect x="1042" y="575" width="1" height="3"/><rect x="1050" y="575" width="1" height="2"/><rect x="1058" y="575" width="1" height="1"/><rect x="1066" y="575" width="1" height="2"/><rect x="1074" y="574" width="1" height="2"/><rect x="1082" y="569" width="1" height="7"/><rect x="1090" y="558" width="1" height="18"/><rect x="1098" y="550" width="1" height="26"/><rect x="1106" y="547" width="1" height="29"/><rect x="1114" y="546" width="1" height="30"/><rect x="1122" y="545" width="1" height="31"/><rect x="1130" y="545" width="1" height="31"/><rect x="1138" y="548" width="1" height="28"/><rect x="1146" y="550" width="1" height="26"/><rect x="1154" y="547" width="1" height="29"/><rect x="1162" y="547" width="1" height="29"/><rect x="1170" y="545" width="1" height="31"/><rect x="1178" y="542" width="1" height="34"/><rect x="1186" y="544" width="1" height="32"/><rect x="1194" y="545" width="1" height="31"/><rect x="1202" y="553" width="1" height="23"/><rect x="1210" y="561" width="1" height="15"/><rect x="1218" y="566" width="1" height="10"/><rect x="1226" y="571" width="1" height="5"/><rect x="1234" y="575" width="1" height="1"/><rect x="1242" y="575" width="1" height="6"/><rect x="1250" y="575" width="1" height="9"/><rect x="1258" y="575" width="1" height="11"/><rect x="1266" y="575" width="1" height="13"/><rect x="1274" y="575" width="1" height="14"/><rect x="1282" y="575" width="1" height="14"/><rect x="1290" y="575" width="1" height="16"/><rect x="1298" y="575" width="1" height="18"/><rect x="1306" y="575" width="1" height="15"/><rect x="1314" y="575" width="1" height="13"/><rect x="1322" y="575" width="1" height="11"/><rect x="1330" y="575" width="1" height="9"/><rect x="1338" y="575" width="1" height="8"/><rect x="1346" y="575" width="1" height="7"/><rect x="1354" y="575" width="1" height="8"/><rect x="1362" y="575" width="1" height="4"/><rect x="1370" y="575" width="1" height="1"/><rect x="1378" y="570" width="1" height="6"/><rect x="1386" y="566" width="1" height="10"/><rect x="1394" y="564" width="1" height="12"/><rect x="1402" y="561" width="1" height="15"/><rect x="1410" y="559" width="1" height="17"/><rect x="1418" y="561" width="1" height="15"/><rect x="1426" y="566" width="1" height="10"/><rect x="1434" y="574" width="1" height="2"/><rect x="1442" y="575" width="1" height="1"/><rect x="1450" y="575" width="1" height="1"/><rect x="1458" y="575" width="1" height="1"/><rect x="1466" y="575" width="1" height="1"/><rect x="1474" y="575" width="1" height="1"/><rect x="1482" y="575" width="1" height="4"/><rect x="1490" y="575" width="1" height="2"/><rect x="1498" y="575" width="1" height="1"/><rect x="1506" y="575" width="1" height="2"/><rect x="1514" y="575" width="1" height="4"/><rect x="1522" y="575" width="1" height="8"/><rect x="1530" y="575" width="1" height="8"/><rect x="1538" y="574" width="1" height="2"/><rect x="1546" y="574" width="1" height="2"/><rect x="1554" y="572" width="1" height="4"/><rect x="1562" y="570" width="1" height="6"/><rect x="1570" y="569" width="1" height="7"/><rect x="1578" y="573" width="1" height="3"/><rect x="1586" y="566" width="1" height="10"/><rect x="1594" y="562" width="1" height="14"/><rect x="1602" y="558" width="1" height="18"/><rect x="1610" y="555" width="1" height="21"/><rect x="1618" y="551" width="1" height="25"/><rect x="1626" y="535" width="1" height="41"/><rect x="1634" y="526" width="1" height="50"/><rect x="1642" y="526" width="1" height="50"/><rect x="1650" y="524" width="1" height="52"/><rect x="1658" y="523" width="1" height="53"/><rect x="1666" y="524" width="1" height="52"/></g>
<polyline fill="none" stroke="#ff0000" stroke-width="1" stroke-dasharray="3 2" shape-rendering="crispEdges" points="2.5,532.2 15.5,525.2 35.5,516.5 55.5,510.2 75.5,509.5 100.5,509 120.5,505.2 143,504.5 150.5,507.2 165.5,512.5 175.5,522.5 185.5,535.2 195.5,550.2 205.5,565.2 215.5,581.5 225.5,595.2 235.5,604 245.5,610.2 255.5,612.5 265.5,613.2 275.5,612.2 285.5,609 300.5,607 315.5,604.5 325.5,603.2 335.5,597.5 350.5,590.2 365.5,584 375.5,577.5 385.5,572.5 400.5,567.5 415.5,564 430.5,559.5 443,555.2 455.5,551.5 468,547.5 480.5,544.5 493,540.2 505.5,537.2 518,535.2 530.5,533.5 543,533 580.5,533 593,534.5 605.5,537.2 618,540.2 630.5,543.5 643,547 655.5,549.5 668,551 680.5,552 693,552.5 705.5,555.2 713,556.5 723,561.5 733,566 743,571.5 753,576 765.5,579.5 780.5,581.5 790.5,581.5 800.5,579 810.5,576.5 818,575.2 830.5,577.2 843,579.5 860.5,582 875.5,581.5 890.5,579 905.5,573.5 920.5,566 935.5,559.5 945.5,556 960.5,553 973,552.2 985.5,553.5 998,555.2 1010.5,558.5 1023,562.2 1035.5,566 1048,569.5 1060.5,572.2 1073,574 1085.5,573.5 1095.5,572.2 1105.5,567.5 1115.5,563.2 1125.5,558.2 1135.5,554 1145.5,551 1155.5,547.5 1168,546 1195.5,545.5 1210.5,547.2 1223,550.5 1235.5,555.2 1248,561.5 1260.5,569 1273,577 1283,581 1293.5,583.5 1301.5,587.2 1306.5,588.2 1324,589 1341.5,587.5 1354,586 1369,584.5 1379,581 1391.5,577 1404,572.5 1416.5,569.5 1429,566.5 1441.5,565.5 1454,566 1466.5,568.2 1479,570.5 1486.5,574 1504,576 1516.5,577 1529,578.5 1541.5,579 1554,577.5 1566.5,576.5 1581.5,575.2 1591.5,572.2 1601.5,569 1611.5,565.2 1621.5,562.2 1631.5,557.2 1641.5,551 1651.5,544.5 1661.5,539 1666.5,535.5"/>
<g class="cr" fill="#c0c0c0"><rect x="3" y="677" width="3" height="1"/><rect x="9" y="677" width="3" height="1"/><rect x="15" y="677" width="3" height="1"/><rect x="21" y="677" width="3" height="1"/><rect x="27" y="677" width="3" height="1"/><rect x="33" y="677" width="3" height="1"/><rect x="39" y="677" width="3" height="1"/><rect x="45" y="677" width="3" height="1"/><rect x="51" y="677" width="3" height="1"/><rect x="57" y="677" width="3" height="1"/><rect x="63" y="677" width="3" height="1"/><rect x="69" y="677" width="3" height="1"/><rect x="75" y="677" width="3" height="1"/><rect x="81" y="677" width="3" height="1"/><rect x="87" y="677" width="3" height="1"/><rect x="93" y="677" width="3" height="1"/><rect x="99" y="677" width="3" height="1"/><rect x="105" y="677" width="3" height="1"/><rect x="111" y="677" width="3" height="1"/><rect x="117" y="677" width="3" height="1"/><rect x="123" y="677" width="3" height="1"/><rect x="129" y="677" width="3" height="1"/><rect x="135" y="677" width="3" height="1"/><rect x="141" y="677" width="3" height="1"/><rect x="147" y="677" width="3" height="1"/><rect x="153" y="677" width="3" height="1"/><rect x="159" y="677" width="3" height="1"/><rect x="165" y="677" width="3" height="1"/><rect x="171" y="677" width="3" height="1"/><rect x="177" y="677" width="3" height="1"/><rect x="183" y="677" width="3" height="1"/><rect x="189" y="677" width="3" height="1"/><rect x="195" y="677" width="3" height="1"/><rect x="201" y="677" width="3" height="1"/><rect x="207" y="677" width="3" height="1"/><rect x="213" y="677" width="3" height="1"/><rect x="219" y="677" width="3" height="1"/><rect x="225" y="677" width="3" height="1"/><rect x="231" y="677" width="3" height="1"/><rect x="237" y="677" width="3" height="1"/><rect x="243" y="677" width="3" height="1"/><rect x="249" y="677" width="3" height="1"/><rect x="255" y="677" width="3" height="1"/><rect x="261" y="677" width="3" height="1"/><rect x="267" y="677" width="3" height="1"/><rect x="273" y="677" width="3" height="1"/><rect x="279" y="677" width="3" height="1"/><rect x="285" y="677" width="3" height="1"/><rect x="291" y="677" width="3" height="1"/><rect x="297" y="677" width="3" height="1"/><rect x="303" y="677" width="3" height="1"/><rect x="309" y="677" width="3" height="1"/><rect x="315" y="677" width="3" height="1"/><rect x="321" y="677" width="3" height="1"/><rect x="327" y="677" width="3" height="1"/><rect x="333" y="677" width="3" height="1"/><rect x="339" y="677" width="3" height="1"/><rect x="345" y="677" width="3" height="1"/><rect x="351" y="677" width="3" height="1"/><rect x="357" y="677" width="3" height="1"/><rect x="363" y="677" width="3" height="1"/><rect x="369" y="677" width="3" height="1"/><rect x="375" y="677" width="3" height="1"/><rect x="381" y="677" width="3" height="1"/><rect x="387" y="677" width="3" height="1"/><rect x="393" y="677" width="3" height="1"/><rect x="399" y="677" width="3" height="1"/><rect x="405" y="677" width="3" height="1"/><rect x="411" y="677" width="3" height="1"/><rect x="417" y="677" width="3" height="1"/><rect x="423" y="677" width="3" height="1"/><rect x="429" y="677" width="3" height="1"/><rect x="435" y="677" width="3" height="1"/><rect x="441" y="677" width="3" height="1"/><rect x="447" y="677" width="3" height="1"/><rect x="453" y="677" width="3" height="1"/><rect x="459" y="677" width="3" height="1"/><rect x="465" y="677" width="3" height="1"/><rect x="471" y="677" width="3" height="1"/><rect x="477" y="677" width="3" height="1"/><rect x="483" y="677" width="3" height="1"/><rect x="489" y="677" width="3" height="1"/><rect x="495" y="677" width="3" height="1"/><rect x="501" y="677" width="3" height="1"/><rect x="507" y="677" width="3" height="1"/><rect x="513" y="677" width="3" height="1"/><rect x="519" y="677" width="3" height="1"/><rect x="525" y="677" width="3" height="1"/><rect x="531" y="677" width="3" height="1"/><rect x="537" y="677" width="3" height="1"/><rect x="543" y="677" width="3" height="1"/><rect x="549" y="677" width="3" height="1"/><rect x="555" y="677" width="3" height="1"/><rect x="561" y="677" width="3" height="1"/><rect x="567" y="677" width="3" height="1"/><rect x="573" y="677" width="3" height="1"/><rect x="579" y="677" width="3" height="1"/><rect x="585" y="677" width="3" height="1"/><rect x="591" y="677" width="3" height="1"/><rect x="597" y="677" width="3" height="1"/><rect x="603" y="677" width="3" height="1"/><rect x="609" y="677" width="3" height="1"/><rect x="615" y="677" width="3" height="1"/><rect x="621" y="677" width="3" height="1"/><rect x="627" y="677" width="3" height="1"/><rect x="633" y="677" width="3" height="1"/><rect x="639" y="677" width="3" height="1"/><rect x="645" y="677" width="3" height="1"/><rect x="651" y="677" width="3" height="1"/><rect x="657" y="677" width="3" height="1"/><rect x="663" y="677" width="3" height="1"/><rect x="669" y="677" width="3" height="1"/><rect x="675" y="677" width="3" height="1"/><rect x="681" y="677" width="3" height="1"/><rect x="687" y="677" width="3" height="1"/><rect x="693" y="677" width="3" height="1"/><rect x="699" y="677" width="3" height="1"/><rect x="705" y="677" width="3" height="1"/><rect x="711" y="677" width="3" height="1"/><rect x="717" y="677" width="3" height="1"/><rect x="723" y="677" width="3" height="1"/><rect x="729" y="677" width="3" height="1"/><rect x="735" y="677" width="3" height="1"/><rect x="741" y="677" width="3" height="1"/><rect x="747" y="677" width="3" height="1"/><rect x="753" y="677" width="3" height="1"/><rect x="759" y="677" width="3" height="1"/><rect x="765" y="677" width="3" height="1"/><rect x="771" y="677" width="3" height="1"/><rect x="777" y="677" width="3" height="1"/><rect x="783" y="677" width="3" height="1"/><rect x="789" y="677" width="3" height="1"/><rect x="795" y="677" width="3" height="1"/><rect x="801" y="677" width="3" height="1"/><rect x="807" y="677" width="3" height="1"/><rect x="813" y="677" width="3" height="1"/><rect x="819" y="677" width="3" height="1"/><rect x="825" y="677" width="3" height="1"/><rect x="831" y="677" width="3" height="1"/><rect x="837" y="677" width="3" height="1"/><rect x="843" y="677" width="3" height="1"/><rect x="849" y="677" width="3" height="1"/><rect x="855" y="677" width="3" height="1"/><rect x="861" y="677" width="3" height="1"/><rect x="867" y="677" width="3" height="1"/><rect x="873" y="677" width="3" height="1"/><rect x="879" y="677" width="3" height="1"/><rect x="885" y="677" width="3" height="1"/><rect x="891" y="677" width="3" height="1"/><rect x="897" y="677" width="3" height="1"/><rect x="903" y="677" width="3" height="1"/><rect x="909" y="677" width="3" height="1"/><rect x="915" y="677" width="3" height="1"/><rect x="921" y="677" width="3" height="1"/><rect x="927" y="677" width="3" height="1"/><rect x="933" y="677" width="3" height="1"/><rect x="939" y="677" width="3" height="1"/><rect x="945" y="677" width="3" height="1"/><rect x="951" y="677" width="3" height="1"/><rect x="957" y="677" width="3" height="1"/><rect x="963" y="677" width="3" height="1"/><rect x="969" y="677" width="3" height="1"/><rect x="975" y="677" width="3" height="1"/><rect x="981" y="677" width="3" height="1"/><rect x="987" y="677" width="3" height="1"/><rect x="993" y="677" width="3" height="1"/><rect x="999" y="677" width="3" height="1"/><rect x="1005" y="677" width="3" height="1"/><rect x="1011" y="677" width="3" height="1"/><rect x="1017" y="677" width="3" height="1"/><rect x="1023" y="677" width="3" height="1"/><rect x="1029" y="677" width="3" height="1"/><rect x="1035" y="677" width="3" height="1"/><rect x="1041" y="677" width="3" height="1"/><rect x="1047" y="677" width="3" height="1"/><rect x="1053" y="677" width="3" height="1"/><rect x="1059" y="677" width="3" height="1"/><rect x="1065" y="677" width="3" height="1"/><rect x="1071" y="677" width="3" height="1"/><rect x="1077" y="677" width="3" height="1"/><rect x="1083" y="677" width="3" height="1"/><rect x="1089" y="677" width="3" height="1"/><rect x="1095" y="677" width="3" height="1"/><rect x="1101" y="677" width="3" height="1"/><rect x="1107" y="677" width="3" height="1"/><rect x="1113" y="677" width="3" height="1"/><rect x="1119" y="677" width="3" height="1"/><rect x="1125" y="677" width="3" height="1"/><rect x="1131" y="677" width="3" height="1"/><rect x="1137" y="677" width="3" height="1"/><rect x="1143" y="677" width="3" height="1"/><rect x="1149" y="677" width="3" height="1"/><rect x="1155" y="677" width="3" height="1"/><rect x="1161" y="677" width="3" height="1"/><rect x="1167" y="677" width="3" height="1"/><rect x="1173" y="677" width="3" height="1"/><rect x="1179" y="677" width="3" height="1"/><rect x="1185" y="677" width="3" height="1"/><rect x="1191" y="677" width="3" height="1"/><rect x="1197" y="677" width="3" height="1"/><rect x="1203" y="677" width="3" height="1"/><rect x="1209" y="677" width="3" height="1"/><rect x="1215" y="677" width="3" height="1"/><rect x="1221" y="677" width="3" height="1"/><rect x="1227" y="677" width="3" height="1"/><rect x="1233" y="677" width="3" height="1"/><rect x="1239" y="677" width="3" height="1"/><rect x="1245" y="677" width="3" height="1"/><rect x="1251" y="677" width="3" height="1"/><rect x="1257" y="677" width="3" height="1"/><rect x="1263" y="677" width="3" height="1"/><rect x="1269" y="677" width="3" height="1"/><rect x="1275" y="677" width="3" height="1"/><rect x="1281" y="677" width="3" height="1"/><rect x="1287" y="677" width="3" height="1"/><rect x="1293" y="677" width="3" height="1"/><rect x="1299" y="677" width="3" height="1"/><rect x="1305" y="677" width="3" height="1"/><rect x="1311" y="677" width="3" height="1"/><rect x="1317" y="677" width="3" height="1"/><rect x="1323" y="677" width="3" height="1"/><rect x="1329" y="677" width="3" height="1"/><rect x="1335" y="677" width="3" height="1"/><rect x="1341" y="677" width="3" height="1"/><rect x="1347" y="677" width="3" height="1"/><rect x="1353" y="677" width="3" height="1"/><rect x="1359" y="677" width="3" height="1"/><rect x="1365" y="677" width="3" height="1"/><rect x="1371" y="677" width="3" height="1"/><rect x="1377" y="677" width="3" height="1"/><rect x="1383" y="677" width="3" height="1"/><rect x="1389" y="677" width="3" height="1"/><rect x="1395" y="677" width="3" height="1"/><rect x="1401" y="677" width="3" height="1"/><rect x="1407" y="677" width="3" height="1"/><rect x="1413" y="677" width="3" height="1"/><rect x="1419" y="677" width="3" height="1"/><rect x="1425" y="677" width="3" height="1"/><rect x="1431" y="677" width="3" height="1"/><rect x="1437" y="677" width="3" height="1"/><rect x="1443" y="677" width="3" height="1"/><rect x="1449" y="677" width="3" height="1"/><rect x="1455" y="677" width="3" height="1"/><rect x="1461" y="677" width="3" height="1"/><rect x="1467" y="677" width="3" height="1"/><rect x="1473" y="677" width="3" height="1"/><rect x="1479" y="677" width="3" height="1"/><rect x="1485" y="677" width="3" height="1"/><rect x="1491" y="677" width="3" height="1"/><rect x="1497" y="677" width="3" height="1"/><rect x="1503" y="677" width="3" height="1"/><rect x="1509" y="677" width="3" height="1"/><rect x="1515" y="677" width="3" height="1"/><rect x="1521" y="677" width="3" height="1"/><rect x="1527" y="677" width="3" height="1"/><rect x="1533" y="677" width="3" height="1"/><rect x="1539" y="677" width="3" height="1"/><rect x="1545" y="677" width="3" height="1"/><rect x="1551" y="677" width="3" height="1"/><rect x="1557" y="677" width="3" height="1"/><rect x="1563" y="677" width="3" height="1"/><rect x="1569" y="677" width="3" height="1"/><rect x="1575" y="677" width="3" height="1"/><rect x="1581" y="677" width="3" height="1"/><rect x="1587" y="677" width="3" height="1"/><rect x="1593" y="677" width="3" height="1"/><rect x="1599" y="677" width="3" height="1"/><rect x="1605" y="677" width="3" height="1"/><rect x="1611" y="677" width="3" height="1"/><rect x="1617" y="677" width="3" height="1"/><rect x="1623" y="677" width="3" height="1"/><rect x="1629" y="677" width="3" height="1"/><rect x="1635" y="677" width="3" height="1"/><rect x="1641" y="677" width="3" height="1"/><rect x="1647" y="677" width="3" height="1"/><rect x="1653" y="677" width="3" height="1"/><rect x="1659" y="677" width="3" height="1"/><rect x="1665" y="677" width="3" height="1"/><rect x="1671" y="677" width="3" height="1"/><rect x="1677" y="677" width="3" height="1"/><rect x="1683" y="677" width="3" height="1"/><rect x="3" y="731" width="3" height="1"/><rect x="9" y="731" width="3" height="1"/><rect x="15" y="731" width="3" height="1"/><rect x="21" y="731" width="3" height="1"/><rect x="27" y="731" width="3" height="1"/><rect x="33" y="731" width="3" height="1"/><rect x="39" y="731" width="3" height="1"/><rect x="45" y="731" width="3" height="1"/><rect x="51" y="731" width="3" height="1"/><rect x="57" y="731" width="3" height="1"/><rect x="63" y="731" width="3" height="1"/><rect x="69" y="731" width="3" height="1"/><rect x="75" y="731" width="3" height="1"/><rect x="81" y="731" width="3" height="1"/><rect x="87" y="731" width="3" height="1"/><rect x="93" y="731" width="3" height="1"/><rect x="99" y="731" width="3" height="1"/><rect x="105" y="731" width="3" height="1"/><rect x="111" y="731" width="3" height="1"/><rect x="117" y="731" width="3" height="1"/><rect x="123" y="731" width="3" height="1"/><rect x="129" y="731" width="3" height="1"/><rect x="135" y="731" width="3" height="1"/><rect x="141" y="731" width="3" height="1"/><rect x="147" y="731" width="3" height="1"/><rect x="153" y="731" width="3" height="1"/><rect x="159" y="731" width="3" height="1"/><rect x="165" y="731" width="3" height="1"/><rect x="171" y="731" width="3" height="1"/><rect x="177" y="731" width="3" height="1"/><rect x="183" y="731" width="3" height="1"/><rect x="189" y="731" width="3" height="1"/><rect x="195" y="731" width="3" height="1"/><rect x="201" y="731" width="3" height="1"/><rect x="207" y="731" width="3" height="1"/><rect x="213" y="731" width="3" height="1"/><rect x="219" y="731" width="3" height="1"/><rect x="225" y="731" width="3" height="1"/><rect x="231" y="731" width="3" height="1"/><rect x="237" y="731" width="3" height="1"/><rect x="243" y="731" width="3" height="1"/><rect x="249" y="731" width="3" height="1"/><rect x="255" y="731" width="3" height="1"/><rect x="261" y="731" width="3" height="1"/><rect x="267" y="731" width="3" height="1"/><rect x="273" y="731" width="3" height="1"/><rect x="279" y="731" width="3" height="1"/><rect x="285" y="731" width="3" height="1"/><rect x="291" y="731" width="3" height="1"/><rect x="297" y="731" width="3" height="1"/><rect x="303" y="731" width="3" height="1"/><rect x="309" y="731" width="3" height="1"/><rect x="315" y="731" width="3" height="1"/><rect x="321" y="731" width="3" height="1"/><rect x="327" y="731" width="3" height="1"/><rect x="333" y="731" width="3" height="1"/><rect x="339" y="731" width="3" height="1"/><rect x="345" y="731" width="3" height="1"/><rect x="351" y="731" width="3" height="1"/><rect x="357" y="731" width="3" height="1"/><rect x="363" y="731" width="3" height="1"/><rect x="369" y="731" width="3" height="1"/><rect x="375" y="731" width="3" height="1"/><rect x="381" y="731" width="3" height="1"/><rect x="387" y="731" width="3" height="1"/><rect x="393" y="731" width="3" height="1"/><rect x="399" y="731" width="3" height="1"/><rect x="405" y="731" width="3" height="1"/><rect x="411" y="731" width="3" height="1"/><rect x="417" y="731" width="3" height="1"/><rect x="423" y="731" width="3" height="1"/><rect x="429" y="731" width="3" height="1"/><rect x="435" y="731" width="3" height="1"/><rect x="441" y="731" width="3" height="1"/><rect x="447" y="731" width="3" height="1"/><rect x="453" y="731" width="3" height="1"/><rect x="459" y="731" width="3" height="1"/><rect x="465" y="731" width="3" height="1"/><rect x="471" y="731" width="3" height="1"/><rect x="477" y="731" width="3" height="1"/><rect x="483" y="731" width="3" height="1"/><rect x="489" y="731" width="3" height="1"/><rect x="495" y="731" width="3" height="1"/><rect x="501" y="731" width="3" height="1"/><rect x="507" y="731" width="3" height="1"/><rect x="513" y="731" width="3" height="1"/><rect x="519" y="731" width="3" height="1"/><rect x="525" y="731" width="3" height="1"/><rect x="531" y="731" width="3" height="1"/><rect x="537" y="731" width="3" height="1"/><rect x="543" y="731" width="3" height="1"/><rect x="549" y="731" width="3" height="1"/><rect x="555" y="731" width="3" height="1"/><rect x="561" y="731" width="3" height="1"/><rect x="567" y="731" width="3" height="1"/><rect x="573" y="731" width="3" height="1"/><rect x="579" y="731" width="3" height="1"/><rect x="585" y="731" width="3" height="1"/><rect x="591" y="731" width="3" height="1"/><rect x="597" y="731" width="3" height="1"/><rect x="603" y="731" width="3" height="1"/><rect x="609" y="731" width="3" height="1"/><rect x="615" y="731" width="3" height="1"/><rect x="621" y="731" width="3" height="1"/><rect x="627" y="731" width="3" height="1"/><rect x="633" y="731" width="3" height="1"/><rect x="639" y="731" width="3" height="1"/><rect x="645" y="731" width="3" height="1"/><rect x="651" y="731" width="3" height="1"/><rect x="657" y="731" width="3" height="1"/><rect x="663" y="731" width="3" height="1"/><rect x="669" y="731" width="3" height="1"/><rect x="675" y="731" width="3" height="1"/><rect x="681" y="731" width="3" height="1"/><rect x="687" y="731" width="3" height="1"/><rect x="693" y="731" width="3" height="1"/><rect x="699" y="731" width="3" height="1"/><rect x="705" y="731" width="3" height="1"/><rect x="711" y="731" width="3" height="1"/><rect x="717" y="731" width="3" height="1"/><rect x="723" y="731" width="3" height="1"/><rect x="729" y="731" width="3" height="1"/><rect x="735" y="731" width="3" height="1"/><rect x="741" y="731" width="3" height="1"/><rect x="747" y="731" width="3" height="1"/><rect x="753" y="731" width="3" height="1"/><rect x="759" y="731" width="3" height="1"/><rect x="765" y="731" width="3" height="1"/><rect x="771" y="731" width="3" height="1"/><rect x="777" y="731" width="3" height="1"/><rect x="783" y="731" width="3" height="1"/><rect x="789" y="731" width="3" height="1"/><rect x="795" y="731" width="3" height="1"/><rect x="801" y="731" width="3" height="1"/><rect x="807" y="731" width="3" height="1"/><rect x="813" y="731" width="3" height="1"/><rect x="819" y="731" width="3" height="1"/><rect x="825" y="731" width="3" height="1"/><rect x="831" y="731" width="3" height="1"/><rect x="837" y="731" width="3" height="1"/><rect x="843" y="731" width="3" height="1"/><rect x="849" y="731" width="3" height="1"/><rect x="855" y="731" width="3" height="1"/><rect x="861" y="731" width="3" height="1"/><rect x="867" y="731" width="3" height="1"/><rect x="873" y="731" width="3" height="1"/><rect x="879" y="731" width="3" height="1"/><rect x="885" y="731" width="3" height="1"/><rect x="891" y="731" width="3" height="1"/><rect x="897" y="731" width="3" height="1"/><rect x="903" y="731" width="3" height="1"/><rect x="909" y="731" width="3" height="1"/><rect x="915" y="731" width="3" height="1"/><rect x="921" y="731" width="3" height="1"/><rect x="927" y="731" width="3" height="1"/><rect x="933" y="731" width="3" height="1"/><rect x="939" y="731" width="3" height="1"/><rect x="945" y="731" width="3" height="1"/><rect x="951" y="731" width="3" height="1"/><rect x="957" y="731" width="3" height="1"/><rect x="963" y="731" width="3" height="1"/><rect x="969" y="731" width="3" height="1"/><rect x="975" y="731" width="3" height="1"/><rect x="981" y="731" width="3" height="1"/><rect x="987" y="731" width="3" height="1"/><rect x="993" y="731" width="3" height="1"/><rect x="999" y="731" width="3" height="1"/><rect x="1005" y="731" width="3" height="1"/><rect x="1011" y="731" width="3" height="1"/><rect x="1017" y="731" width="3" height="1"/><rect x="1023" y="731" width="3" height="1"/><rect x="1029" y="731" width="3" height="1"/><rect x="1035" y="731" width="3" height="1"/><rect x="1041" y="731" width="3" height="1"/><rect x="1047" y="731" width="3" height="1"/><rect x="1053" y="731" width="3" height="1"/><rect x="1059" y="731" width="3" height="1"/><rect x="1065" y="731" width="3" height="1"/><rect x="1071" y="731" width="3" height="1"/><rect x="1077" y="731" width="3" height="1"/><rect x="1083" y="731" width="3" height="1"/><rect x="1089" y="731" width="3" height="1"/><rect x="1095" y="731" width="3" height="1"/><rect x="1101" y="731" width="3" height="1"/><rect x="1107" y="731" width="3" height="1"/><rect x="1113" y="731" width="3" height="1"/><rect x="1119" y="731" width="3" height="1"/><rect x="1125" y="731" width="3" height="1"/><rect x="1131" y="731" width="3" height="1"/><rect x="1137" y="731" width="3" height="1"/><rect x="1143" y="731" width="3" height="1"/><rect x="1149" y="731" width="3" height="1"/><rect x="1155" y="731" width="3" height="1"/><rect x="1161" y="731" width="3" height="1"/><rect x="1167" y="731" width="3" height="1"/><rect x="1173" y="731" width="3" height="1"/><rect x="1179" y="731" width="3" height="1"/><rect x="1185" y="731" width="3" height="1"/><rect x="1191" y="731" width="3" height="1"/><rect x="1197" y="731" width="3" height="1"/><rect x="1203" y="731" width="3" height="1"/><rect x="1209" y="731" width="3" height="1"/><rect x="1215" y="731" width="3" height="1"/><rect x="1221" y="731" width="3" height="1"/><rect x="1227" y="731" width="3" height="1"/><rect x="1233" y="731" width="3" height="1"/><rect x="1239" y="731" width="3" height="1"/><rect x="1245" y="731" width="3" height="1"/><rect x="1251" y="731" width="3" height="1"/><rect x="1257" y="731" width="3" height="1"/><rect x="1263" y="731" width="3" height="1"/><rect x="1269" y="731" width="3" height="1"/><rect x="1275" y="731" width="3" height="1"/><rect x="1281" y="731" width="3" height="1"/><rect x="1287" y="731" width="3" height="1"/><rect x="1293" y="731" width="3" height="1"/><rect x="1299" y="731" width="3" height="1"/><rect x="1305" y="731" width="3" height="1"/><rect x="1311" y="731" width="3" height="1"/><rect x="1317" y="731" width="3" height="1"/><rect x="1323" y="731" width="3" height="1"/><rect x="1329" y="731" width="3" height="1"/><rect x="1335" y="731" width="3" height="1"/><rect x="1341" y="731" width="3" height="1"/><rect x="1347" y="731" width="3" height="1"/><rect x="1353" y="731" width="3" height="1"/><rect x="1359" y="731" width="3" height="1"/><rect x="1365" y="731" width="3" height="1"/><rect x="1371" y="731" width="3" height="1"/><rect x="1377" y="731" width="3" height="1"/><rect x="1383" y="731" width="3" height="1"/><rect x="1389" y="731" width="3" height="1"/><rect x="1395" y="731" width="3" height="1"/><rect x="1401" y="731" width="3" height="1"/><rect x="1407" y="731" width="3" height="1"/><rect x="1413" y="731" width="3" height="1"/><rect x="1419" y="731" width="3" height="1"/><rect x="1425" y="731" width="3" height="1"/><rect x="1431" y="731" width="3" height="1"/><rect x="1437" y="731" width="3" height="1"/><rect x="1443" y="731" width="3" height="1"/><rect x="1449" y="731" width="3" height="1"/><rect x="1455" y="731" width="3" height="1"/><rect x="1461" y="731" width="3" height="1"/><rect x="1467" y="731" width="3" height="1"/><rect x="1473" y="731" width="3" height="1"/><rect x="1479" y="731" width="3" height="1"/><rect x="1485" y="731" width="3" height="1"/><rect x="1491" y="731" width="3" height="1"/><rect x="1497" y="731" width="3" height="1"/><rect x="1503" y="731" width="3" height="1"/><rect x="1509" y="731" width="3" height="1"/><rect x="1515" y="731" width="3" height="1"/><rect x="1521" y="731" width="3" height="1"/><rect x="1527" y="731" width="3" height="1"/><rect x="1533" y="731" width="3" height="1"/><rect x="1539" y="731" width="3" height="1"/><rect x="1545" y="731" width="3" height="1"/><rect x="1551" y="731" width="3" height="1"/><rect x="1557" y="731" width="3" height="1"/><rect x="1563" y="731" width="3" height="1"/><rect x="1569" y="731" width="3" height="1"/><rect x="1575" y="731" width="3" height="1"/><rect x="1581" y="731" width="3" height="1"/><rect x="1587" y="731" width="3" height="1"/><rect x="1593" y="731" width="3" height="1"/><rect x="1599" y="731" width="3" height="1"/><rect x="1605" y="731" width="3" height="1"/><rect x="1611" y="731" width="3" height="1"/><rect x="1617" y="731" width="3" height="1"/><rect x="1623" y="731" width="3" height="1"/><rect x="1629" y="731" width="3" height="1"/><rect x="1635" y="731" width="3" height="1"/><rect x="1641" y="731" width="3" height="1"/><rect x="1647" y="731" width="3" height="1"/><rect x="1653" y="731" width="3" height="1"/><rect x="1659" y="731" width="3" height="1"/><rect x="1665" y="731" width="3" height="1"/><rect x="1671" y="731" width="3" height="1"/><rect x="1677" y="731" width="3" height="1"/><rect x="1683" y="731" width="3" height="1"/></g>
<polyline fill="none" stroke="#1e90ff" stroke-width="1" shape-rendering="crispEdges" points="2.5,678.7 10.5,677.5 18.5,684.2 26.5,686.7 34.5,688.7 42.5,686 50.5,686.7 58.5,685 66.5,691.7 74.5,683 82.5,678.7 90.5,681.7 98.5,683 106.5,676.7 114.5,673.7 122.5,684.2 130.5,699.2 138.5,701.7 146.5,700 154.5,700 162.5,710 170.5,726.7 178.5,726.7 186.5,725.5 194.5,727.2 202.5,731.7 210.5,728.7 218.5,712.5 226.5,708 234.5,701.7 242.5,703.5 250.5,705.5 258.5,714.7 266.5,712.5 274.5,712.5 282.5,715.5 290.5,716.7 298.5,716.7 306.5,700 314.5,699.7 322.5,695 330.5,693.7 338.5,697.5 346.5,700.5 354.5,704.2 362.5,698.7 370.5,702.5 378.5,698.7 386.5,696.7 394.5,691.7 402.5,696.7 410.5,695 418.5,696 426.5,693 434.5,694.2 442.5,686.7 450.5,688.7 458.5,685.5 466.5,683.5 474.5,681.7 482.5,684.7 490.5,688.5 498.5,690 506.5,687 514.5,685.7 522.5,683.7 530.5,682 538.5,675 546.5,685.7 554.5,687.5 562.5,689.7 570.5,690 578.5,693.5 586.5,700.5 594.5,695 602.5,687 610.5,701.7 618.5,697.7 626.5,697.7 634.5,696.7 642.5,692 650.5,698.7 658.5,693.5 666.5,691.7 674.5,693.5 682.5,699.7 690.5,693 698.5,713.7 706.5,718 714.5,716.7 722.5,720.5 730.5,724.7 738.5,724.7 746.5,699.2 754.5,696.2 762.5,694.2 770.5,703 778.5,701.7 786.5,705.7 794.5,703.7 802.5,696 810.5,711.2 818.5,714.7 826.5,718.7 834.5,714.2 842.5,708 850.5,697.5 858.5,701.7 866.5,698.7 874.5,697.5 882.5,695 890.5,693.7 898.5,695 906.5,690 914.5,690 922.5,693 930.5,691.7 938.5,693 946.5,691.7 954.5,699.7 962.5,697.5 970.5,700.5 978.5,708.7 986.5,706.7 994.5,702.7 1002.5,705.7 1010.5,705.7 1018.5,704.7 1026.5,711.7 1034.5,715 1042.5,711.7 1050.5,702 1058.5,702 1066.5,702 1074.5,697.5 1082.5,688.7 1090.5,673.7 1098.5,676.7 1106.5,683.7 1114.5,691.7 1122.5,688.7 1130.5,690 1138.5,700.5 1146.5,696 1154.5,690 1162.5,688.7 1170.5,687.7 1178.5,684.7 1186.5,694.7 1194.5,693.7 1202.5,710.5 1210.5,714.7 1218.5,711.7 1226.5,714.7 1234.5,713 1242.5,721.7 1250.5,711.7 1258.5,713 1266.5,716 1274.5,711.7 1282.5,713 1290.5,703 1298.5,721.5 1306.5,704.7 1314.5,704.7 1322.5,704.7 1330.5,703.5 1338.5,704.7 1346.5,707 1354.5,709.7 1362.5,700.7 1370.5,695.7 1378.5,691.5 1386.5,693.7 1394.5,692.7 1402.5,693.7 1410.5,692.7 1418.5,703.5 1426.5,709.7 1434.5,718.5 1442.5,708.2 1450.5,704.7 1458.5,706.5 1466.5,702.7 1474.5,706.5 1482.5,713.5 1490.5,704 1498.5,702.7 1506.5,707.7 1514.5,709.7 1522.5,713.5 1530.5,707.7 1538.5,694 1546.5,698.5 1554.5,698.5 1562.5,700.7 1570.5,699.7 1578.5,708.5 1586.5,692.7 1594.5,692.7 1602.5,692.7 1610.5,691.5 1618.5,686.5 1626.5,671.7 1634.5,680.7 1642.5,691.5 1650.5,689.7 1658.5,689.7 1666.5,691.5"/>
<g class="cr" fill="#000"><rect x="2" y="772" width="1" height="3"/><rect x="66" y="772" width="1" height="3"/><rect x="130" y="772" width="1" height="3"/><rect x="194" y="772" width="1" height="3"/><rect x="258" y="772" width="1" height="3"/><rect x="322" y="772" width="1" height="3"/><rect x="386" y="772" width="1" height="3"/><rect x="450" y="772" width="1" height="3"/><rect x="514" y="772" width="1" height="3"/><rect x="578" y="772" width="1" height="3"/><rect x="642" y="772" width="1" height="3"/><rect x="706" y="772" width="1" height="3"/><rect x="770" y="772" width="1" height="3"/><rect x="834" y="772" width="1" height="3"/><rect x="898" y="772" width="1" height="3"/><rect x="962" y="772" width="1" height="3"/><rect x="1026" y="772" width="1" height="3"/><rect x="1090" y="772" width="1" height="3"/><rect x="1154" y="772" width="1" height="3"/><rect x="1218" y="772" width="1" height="3"/><rect x="1282" y="772" width="1" height="3"/><rect x="1346" y="772" width="1" height="3"/><rect x="1410" y="772" width="1" height="3"/><rect x="1474" y="772" width="1" height="3"/><rect x="1538" y="772" width="1" height="3"/><rect x="1602" y="772" width="1" height="3"/><rect x="1666" y="772" width="1" height="3"/></g><text x="0.8" y="784.3" textLength="49.5" lengthAdjust="spacingAndGlyphs">19 Jun 2020</text><text x="64.8" y="784.3" textLength="52.5" lengthAdjust="spacingAndGlyphs">22 Jun 08:00</text><text x="128.8" y="784.3" textLength="52.5" lengthAdjust="spacingAndGlyphs">23 Jun 16:00</text><text x="192.8" y="784.3" textLength="52.5" lengthAdjust="spacingAndGlyphs">25 Jun 00:00</text><text x="256.8" y="784.3" textLength="52.5" lengthAdjust="spacingAndGlyphs">26 Jun 12:00</text><text x="320.8" y="784.3" textLength="52.5" lengthAdjust="spacingAndGlyphs">29 Jun 16:00</text><text x="384.8" y="784.3" textLength="44.4" lengthAdjust="spacingAndGlyphs">1 Jul 00:00</text><text x="448.8" y="784.3" textLength="44.4" lengthAdjust="spacingAndGlyphs">2 Jul 08:00</text><text x="512.8" y="784.3" textLength="44.4" lengthAdjust="spacingAndGlyphs">3 Jul 16:00</text><text x="576.8" y="784.3" textLength="44.4" lengthAdjust="spacingAndGlyphs">7 Jul 00:00</text><text x="640.8" y="784.3" textLength="44.4" lengthAdjust="spacingAndGlyphs">8 Jul 08:00</text><text x="704.8" y="784.3" textLength="44.4" lengthAdjust="spacingAndGlyphs">9 Jul 16:00</text><text x="768.8" y="784.3" textLength="49.6" lengthAdjust="spacingAndGlyphs">12 Jul 23:00</text><text x="832.8" y="784.3" textLength="49.6" lengthAdjust="spacingAndGlyphs">14 Jul 04:00</text><text x="896.8" y="784.3" textLength="49.6" lengthAdjust="spacingAndGlyphs">15 Jul 12:00</text><text x="960.8" y="784.3" textLength="49.6" lengthAdjust="spacingAndGlyphs">16 Jul 20:00</text><text x="1024.8" y="784.3" textLength="49.6" lengthAdjust="spacingAndGlyphs">20 Jul 00:00</text><text x="1088.8" y="784.3" textLength="49.6" lengthAdjust="spacingAndGlyphs">21 Jul 08:00</text><text x="1152.8" y="784.3" textLength="49.6" lengthAdjust="spacingAndGlyphs">22 Jul 16:00</text><text x="1216.8" y="784.3" textLength="49.6" lengthAdjust="spacingAndGlyphs">24 Jul 00:00</text><text x="1280.8" y="784.3" textLength="49.6" lengthAdjust="spacingAndGlyphs">27 Jul 04:00</text><text x="1344.8" y="784.3" textLength="49.6" lengthAdjust="spacingAndGlyphs">28 Jul 12:00</text><text x="1408.8" y="784.3" textLength="49.6" lengthAdjust="spacingAndGlyphs">30 Jul 00:00</text><text x="1472.8" y="784.3" textLength="49.6" lengthAdjust="spacingAndGlyphs">31 Jul 08:00</text><text x="1536.8" y="784.3" textLength="48.6" lengthAdjust="spacingAndGlyphs">3 Aug 12:00</text><text x="1600.8" y="784.3" textLength="48.6" lengthAdjust="spacingAndGlyphs">4 Aug 20:00</text><text x="1664.8" y="784.3" textLength="48.6" lengthAdjust="spacingAndGlyphs">6 Aug 00:00</text>
</svg>
</body></html>
